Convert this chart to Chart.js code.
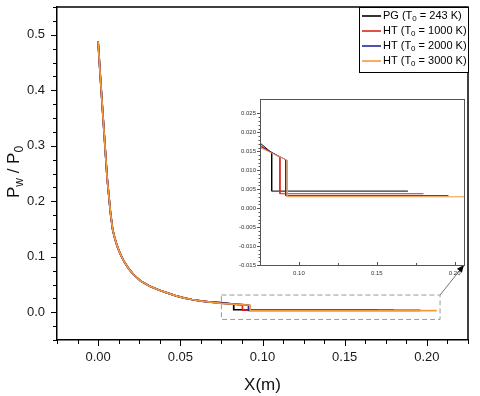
<!DOCTYPE html>
<html>
<head>
<meta charset="utf-8">
<script src="https://cdn.jsdelivr.net/npm/chart.js@4.4.0/dist/chart.umd.min.js"></script>
<style>
  body { margin: 0; background: #fff; }
  #wrap { position: relative; width: 480px; height: 396px; }
  #main { position: absolute; left: 0; top: 0; }
  #inset { position: absolute; left: 226px; top: 92px; }
</style>
</head>
<body>
<div id="wrap">
  <canvas id="main" width="480" height="396"></canvas>
  <canvas id="inset" width="241" height="190"></canvas>
</div>
<script>
// nozzle wall pressure, shared part of all curves
const nozzleX = [0, 0.0015, 0.0035, 0.0055, 0.0075, 0.0088, 0.0100, 0.0115, 0.0135, 0.0155, 0.0185, 0.0215, 0.026, 0.0315, 0.037, 0.042, 0.047, 0.052, 0.057, 0.062, 0.067];
const nozzleY = [0.488, 0.418, 0.330, 0.242, 0.180, 0.150, 0.135, 0.120, 0.105, 0.093, 0.079, 0.068, 0.056, 0.047, 0.040, 0.035, 0.030, 0.026, 0.023, 0.0205, 0.0187];

// tails after the jump
const pgX = [0.075, 0.0825, 0.0825, 0.170];
const pgY = [0.0172, 0.0146, 0.0045, 0.0045];
const ht1000X = [0.075, 0.0878, 0.0878, 0.180];
const ht1000Y = [0.0166, 0.0134, 0.0038, 0.0038];
const ht2000X = [0.075, 0.0915, 0.0915, 0.196];
const ht2000Y = [0.0163, 0.0128, 0.0033, 0.0033];
const ht3000X = [0.075, 0.0925, 0.0925, 0.206];
const ht3000Y = [0.0160, 0.0126, 0.0030, 0.0030];

const seriesGas = ['PG', 'HT', 'HT', 'HT'];
const seriesT0 = [243, 1000, 2000, 3000];
const seriesColors = ['#000000', '#e0221c', '#1f2a96', '#f39a3c'];
const tailsX = [pgX, ht1000X, ht2000X, ht3000X];
const tailsY = [pgY, ht1000Y, ht2000Y, ht3000Y];

const xMajor = [0, 0.05, 0.10, 0.15, 0.20];
const yMajor = [0, 0.1, 0.2, 0.3, 0.4, 0.5];
const insetXMajor = [0.10, 0.15, 0.20];
const insetYMajor = [-0.015, -0.010, -0.005, 0, 0.005, 0.010, 0.015, 0.020, 0.025];

// zoomed window shown in the inset
const zoomX = [0.075, 0.208];
const zoomY = [-0.013, 0.031];

const FONT = "'Liberation Sans', Arial, sans-serif";

function makeDatasets(width) {
  return seriesGas.map((g, i) => {
    const pts = nozzleX.map((x, k) => ({ x, y: nozzleY[k] }))
      .concat(tailsX[i].map((x, k) => ({ x, y: tailsY[i][k] })));
    return {
      label: g + ' (T0 = ' + seriesT0[i] + ' K)',
      data: pts,
      borderColor: seriesColors[i],
      borderWidth: width,
      pointRadius: 0,
      tension: 0,
      fill: false,
      order: 4 - i,
    };
  });
}

// text with subscripted pieces: parts = [[text, isSub], ...]
function partsWidth(ctx, parts, size, subSize) {
  let w = 0;
  parts.forEach(([t, sub]) => {
    ctx.font = (sub ? subSize : size) + 'px ' + FONT;
    w += ctx.measureText(t).width;
  });
  return w;
}
function drawParts(ctx, parts, x, y, size, subSize, shift) {
  parts.forEach(([t, sub]) => {
    ctx.font = (sub ? subSize : size) + 'px ' + FONT;
    ctx.fillText(t, x, sub ? y + shift : y);
    x += ctx.measureText(t).width;
  });
}

// pin the plot box: no extra room for half labels
function fixX(h) {
  return s => { s.height = h; s.paddingLeft = 0; s.paddingRight = 0; };
}
function fixY(w) {
  return s => { s.width = w; s.paddingTop = 0; s.paddingBottom = 0; };
}

let insetChart = null;

const decor = {
  id: 'decor',
  afterDraw(chart) {
    const { ctx, chartArea: ca } = chart;
    const x = chart.scales.x, y = chart.scales.y;
    ctx.save();
    // frame top / right
    ctx.strokeStyle = '#000';
    ctx.lineWidth = 1.5;
    ctx.beginPath();
    ctx.moveTo(ca.left, ca.top);
    ctx.lineTo(ca.right, ca.top);
    ctx.lineTo(ca.right, ca.bottom);
    ctx.stroke();

    // ticks, outward
    ctx.lineWidth = 1;
    ctx.beginPath();
    for (let i = 0; i <= 20; i++) {
      const v = -0.025 + i * 0.0125;
      const px = Math.round(x.getPixelForValue(v)) + 0.5;
      const major = xMajor.some(m => Math.abs(m - v) < 1e-6);
      ctx.moveTo(px, ca.bottom);
      ctx.lineTo(px, ca.bottom + (major ? 6 : 4));
    }
    for (let i = 0; i <= 24; i++) {
      const v = -0.05 + i * 0.025;
      const py = Math.round(y.getPixelForValue(v)) + 0.5;
      const major = yMajor.some(m => Math.abs(m - v) < 1e-6);
      ctx.moveTo(ca.left, py);
      ctx.lineTo(ca.left - (major ? 6 : 4), py);
    }
    ctx.stroke();

    // dashed zoom window
    const rx0 = x.getPixelForValue(zoomX[0]), rx1 = x.getPixelForValue(zoomX[1]);
    const ry0 = y.getPixelForValue(zoomY[1]), ry1 = y.getPixelForValue(zoomY[0]);
    ctx.strokeStyle = '#9a9a9a';
    ctx.setLineDash([5, 3]);
    ctx.strokeRect(rx0, ry0, rx1 - rx0, ry1 - ry0);
    ctx.setLineDash([]);

    // connector to inset corner
    if (insetChart) {
      const ia = insetChart.chartArea;
      const ex = 226 + ia.right, ey = 92 + ia.bottom;
      ctx.strokeStyle = '#777';
      ctx.beginPath();
      ctx.moveTo(rx1, ry0);
      ctx.lineTo(ex, ey);
      ctx.stroke();
      const ang = Math.atan2(ey - ry0, ex - rx1);
      ctx.fillStyle = '#000';
      ctx.beginPath();
      ctx.moveTo(ex, ey);
      ctx.lineTo(ex - 8 * Math.cos(ang - 0.4), ey - 8 * Math.sin(ang - 0.4));
      ctx.lineTo(ex - 8 * Math.cos(ang + 0.4), ey - 8 * Math.sin(ang + 0.4));
      ctx.closePath();
      ctx.fill();
    }

    // legend
    const lw = 109, lh = 65;
    const lx = ca.right - lw, ly = ca.top;
    ctx.fillStyle = '#fff';
    ctx.fillRect(lx, ly, lw, lh);
    ctx.strokeStyle = '#000';
    ctx.lineWidth = 1;
    ctx.strokeRect(lx + 0.5, ly + 0.5, lw, lh);
    ctx.textBaseline = 'middle';
    seriesGas.forEach((g, i) => {
      const ry = ly + 9 + i * 15;
      ctx.strokeStyle = seriesColors[i];
      ctx.lineWidth = 1.6;
      ctx.beginPath();
      ctx.moveTo(lx + 3, ry);
      ctx.lineTo(lx + 22, ry);
      ctx.stroke();
      ctx.fillStyle = '#000';
      drawParts(ctx, [[g + ' (T', false], ['0', true], [' = ' + seriesT0[i] + ' K)', false]],
        lx + 24, ry, 11, 8, 3);
    });

    // axis titles
    ctx.fillStyle = '#111';
    ctx.textBaseline = 'alphabetic';
    const xt = [['X(m)', false]];
    const xw = partsWidth(ctx, xt, 17, 12);
    drawParts(ctx, xt, (ca.left + ca.right) / 2 - xw / 2, 390, 17, 12, 4);

    const yt = [['P', false], ['w', true], [' / P', false], ['0', true]];
    const yw = partsWidth(ctx, yt, 17, 12);
    ctx.translate(19, 172);
    ctx.rotate(-Math.PI / 2);
    drawParts(ctx, yt, -yw / 2, 0, 17, 12, 4);
    ctx.restore();
  },
};

const insetDecor = {
  id: 'insetDecor',
  beforeDraw(chart) {
    const { ctx, chartArea: ca } = chart;
    ctx.save();
    ctx.fillStyle = '#fff';
    ctx.fillRect(ca.left, ca.top, ca.right - ca.left, ca.bottom - ca.top);
    ctx.restore();
  },
  afterDraw(chart) {
    const { ctx, chartArea: ca } = chart;
    const x = chart.scales.x, y = chart.scales.y;
    ctx.save();
    ctx.strokeStyle = '#555';
    ctx.lineWidth = 1;
    ctx.strokeRect(Math.round(ca.left) + 0.5, Math.round(ca.top) + 0.5,
      Math.round(ca.right - ca.left), Math.round(ca.bottom - ca.top));
    ctx.beginPath();
    for (let i = 0; i <= 5; i++) {
      const v = 0.075 + i * 0.025;
      const px = Math.round(x.getPixelForValue(v)) + 0.5;
      const major = insetXMajor.some(m => Math.abs(m - v) < 1e-6);
      ctx.moveTo(px, ca.bottom);
      ctx.lineTo(px, ca.bottom - (major ? 3 : 2));
    }
    for (let i = 0; i <= 40; i++) {
      const v = -0.015 + i * 0.001;
      const py = Math.round(y.getPixelForValue(v)) + 0.5;
      const major = i % 5 === 0;
      ctx.moveTo(ca.left, py);
      ctx.lineTo(ca.left - (major ? 3 : 1.5), py);
    }
    ctx.stroke();
    ctx.restore();
  },
};

const mainChart = new Chart(document.getElementById('main'), {
  type: 'line',
  data: { datasets: makeDatasets(1.7) },
  options: {
    responsive: false,
    animation: false,
    events: [],
    layout: { padding: { left: 0, top: 7, right: 12, bottom: 0 } },
    plugins: { legend: { display: false }, tooltip: { enabled: false } },
    scales: {
      x: {
        type: 'linear',
        min: -0.025,
        max: 0.225,
        afterBuildTicks: s => { s.ticks = xMajor.map(v => ({ value: v })); },
        afterFit: fixX(56),
        grid: { display: false, drawTicks: false, tickLength: 0 },
        border: { color: '#000', width: 1.5 },
        ticks: {
          padding: 10,
          color: '#1a1a1a',
          maxRotation: 0,
          font: { size: 13, family: FONT },
          callback: v => v.toFixed(2),
        },
      },
      y: {
        type: 'linear',
        min: -0.05,
        max: 0.55,
        afterBuildTicks: s => { s.ticks = yMajor.map(v => ({ value: v })); },
        afterFit: fixY(57),
        grid: { display: false, drawTicks: false, tickLength: 0 },
        border: { color: '#000', width: 1.5 },
        ticks: {
          padding: 12,
          color: '#1a1a1a',
          font: { size: 13, family: FONT },
          callback: v => v.toFixed(1),
        },
      },
    },
  },
  plugins: [decor],
});

insetChart = new Chart(document.getElementById('inset'), {
  type: 'line',
  data: { datasets: makeDatasets(1) },
  options: {
    responsive: false,
    animation: false,
    events: [],
    layout: { padding: { left: 0, top: 7, right: 3, bottom: 0 } },
    plugins: { legend: { display: false }, tooltip: { enabled: false } },
    scales: {
      x: {
        type: 'linear',
        min: 0.075,
        max: 0.206,
        afterBuildTicks: s => { s.ticks = insetXMajor.map(v => ({ value: v })); },
        afterFit: fixX(17),
        grid: { display: false, drawTicks: false, tickLength: 0 },
        border: { display: false },
        ticks: {
          padding: 5,
          color: '#333',
          maxRotation: 0,
          font: { size: 6, family: FONT },
          callback: v => v.toFixed(2),
        },
      },
      y: {
        type: 'linear',
        min: -0.015,
        max: 0.0288,
        afterBuildTicks: s => { s.ticks = insetYMajor.map(v => ({ value: v })); },
        afterFit: fixY(34),
        grid: { display: false, drawTicks: false, tickLength: 0 },
        border: { display: false },
        ticks: {
          padding: 4,
          color: '#333',
          font: { size: 6, family: FONT },
          callback: v => v.toFixed(3),
        },
      },
    },
  },
  plugins: [insetDecor],
});

mainChart.draw();
</script>
</body>
</html>
